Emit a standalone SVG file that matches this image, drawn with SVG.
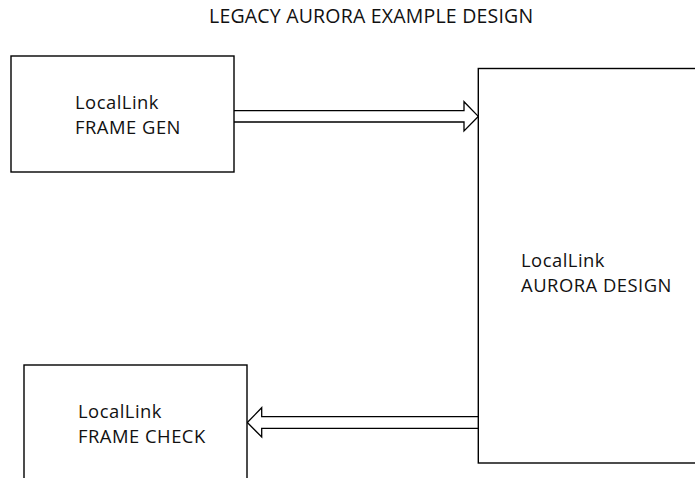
<svg xmlns="http://www.w3.org/2000/svg" width="695" height="478" viewBox="0 0 695 478">
<style>
.box{fill:#fff;stroke:#000;stroke-width:1.4}
.arrow{fill:none;stroke:#000;stroke-width:1.3;stroke-linejoin:miter}
text{font-family:"Open Sans","Liberation Sans",sans-serif;font-size:18.4px;letter-spacing:0.5px;fill:#111}
</style>
<rect width="695" height="478" fill="#fff"/>
<text id="title" x="209" y="23" style="font-size:19.5px;letter-spacing:0.2px">LEGACY AURORA EXAMPLE DESIGN</text>
<g id="connectors">
<polyline class="arrow" points="234,110.7 464,110.7 464,101.7 478.3,116.4 464,131 464,122 234,122"/>
<polyline class="arrow" points="478.3,416.7 261.7,416.7 261.7,407.7 247.3,422.5 261.7,437 261.7,428.3 478.3,428.3"/>
</g>
<g id="frame-gen">
<rect class="box" x="11" y="56" width="223" height="116"/>
<text x="75" y="108.5">LocalLink</text>
<text x="75" y="133.5">FRAME GEN</text>
</g>
<g id="aurora-design">
<rect class="box" x="478.3" y="68.5" width="230" height="394.5"/>
<text x="521" y="266.5">LocalLink</text>
<text x="521" y="291.5">AURORA DESIGN</text>
</g>
<g id="frame-check">
<rect class="box" x="24" y="365" width="223" height="130"/>
<text x="78" y="418">LocalLink</text>
<text x="78" y="443">FRAME CHECK</text>
</g>
</svg>
